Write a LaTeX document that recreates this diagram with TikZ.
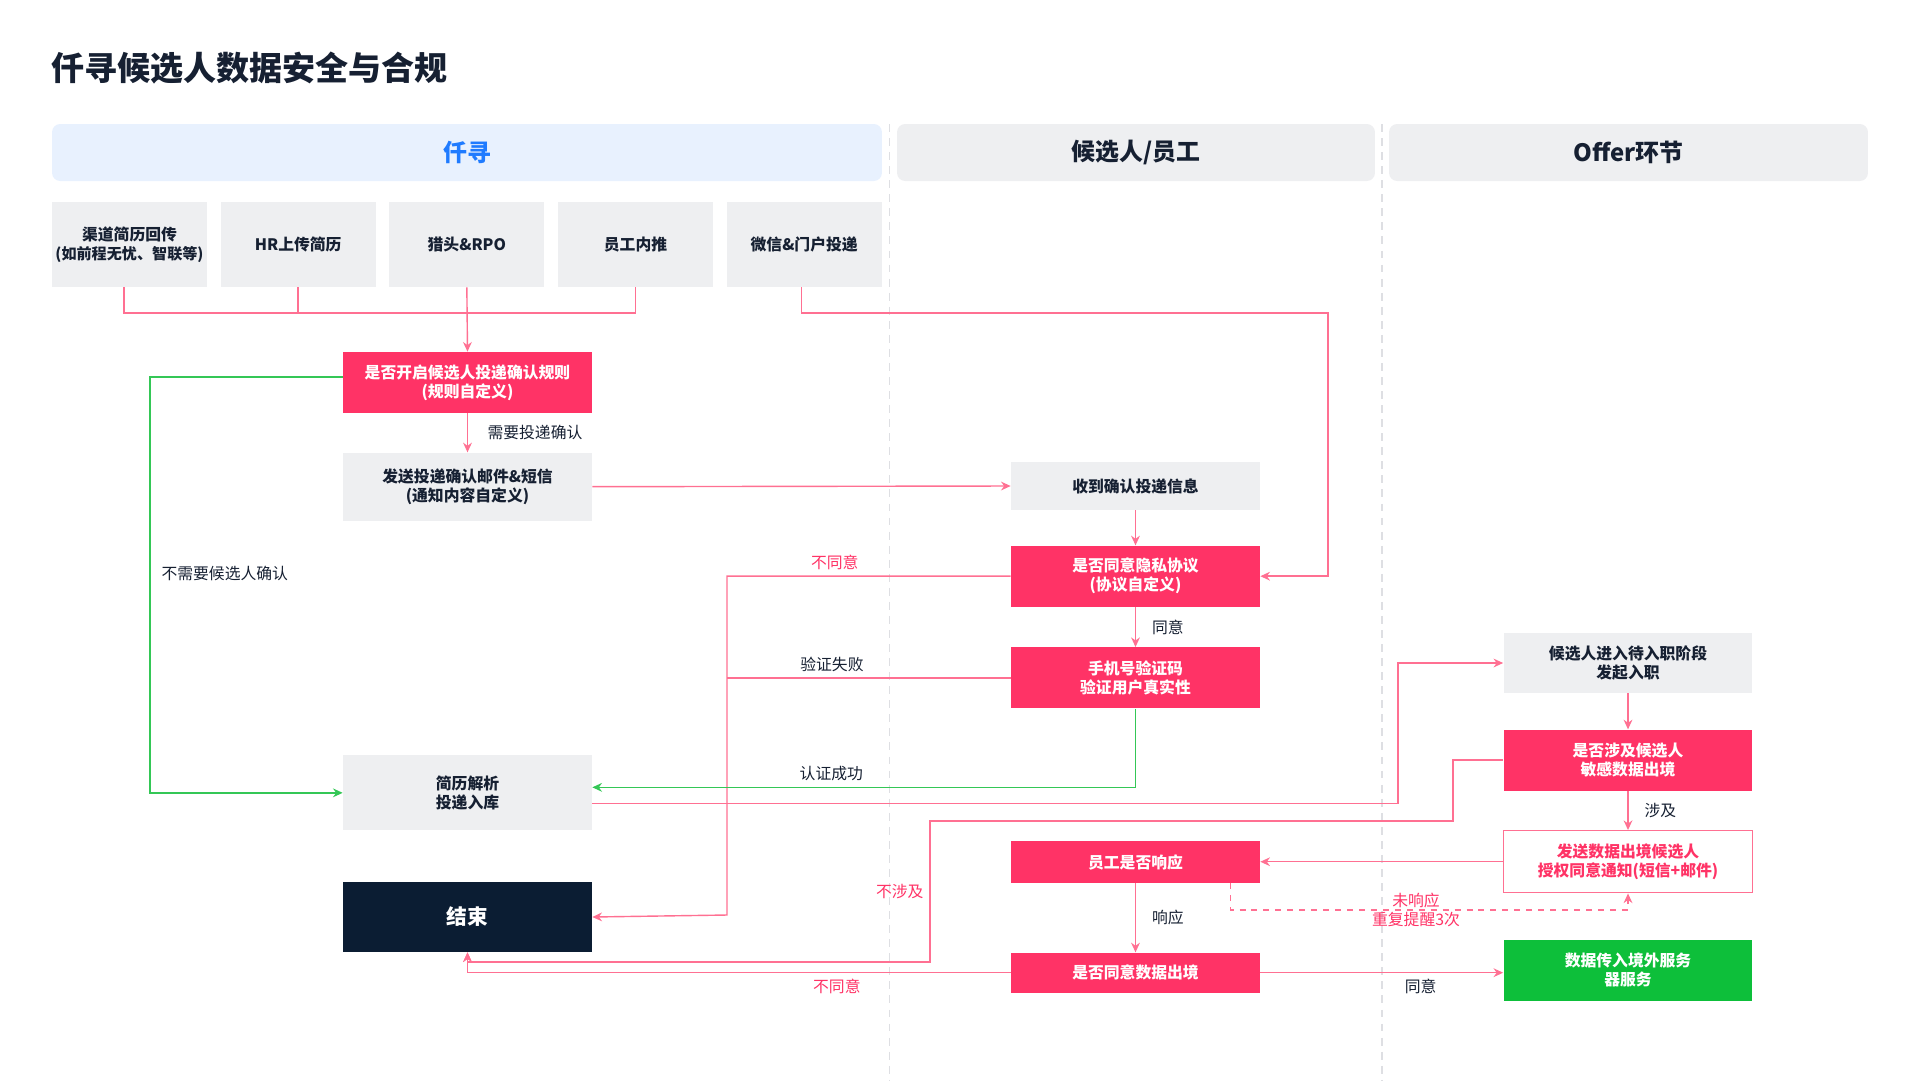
\documentclass[tikz,border=0pt]{standalone}
\usepackage{fontspec}
\setmainfont{Noto Sans CJK SC}
\usepackage{tikz}
\usetikzlibrary{shapes,arrows.meta}
\usetikzlibrary{positioning}
\usetikzlibrary{calc}
\definecolor{myred}{RGB}{255,51,102}
\definecolor{myline}{RGB}{255,112,146}
\definecolor{mygreen}{RGB}{13,191,58}
\definecolor{mygreenline}{RGB}{52,199,86}
\definecolor{mynavy}{RGB}{11,29,51}
\definecolor{mygray}{RGB}{238,239,241}
\definecolor{mydark}{RGB}{22,32,50}
\definecolor{myblue}{RGB}{31,123,255}
\definecolor{mybluebg}{RGB}{232,241,254}
\definecolor{mysep}{RGB}{222,223,227}
\newcommand\flownode[4][]{%
  \node[#1,minimum height=#2cm] (#3) {#4};
}

\begin{document}
\begin{tikzpicture}[
x=0.02cm, y=-0.02cm,
>={Stealth[length=5.5pt,width=5pt]},
mynode/.style={
  rectangle,
  align=center,
  minimum width=4.98cm,
  inner sep=2pt,
  font=\bfseries\fontsize{9}{10.8}\selectfont},
graybox/.style={mynode, fill=mygray, text=mydark},
redbox/.style={mynode, fill=myred, text=white},
srcbox/.style={graybox, minimum width=3.1cm, minimum height=1.7cm, inner sep=0pt},
lanehead/.style={
  rectangle,
  rounded corners=0.16cm,
  fill=mygray,
  text=mydark,
  minimum height=1.14cm,
  font=\bfseries\fontsize{13.6}{16}\selectfont},
lbl/.style={text=mydark, font=\fontsize{9}{10.8}\selectfont},
redlbl/.style={lbl, text=myred},
redline/.style={draw=myline, line width=0.8pt},
greenline/.style={draw=mygreenline, line width=0.8pt},
lane/.style={draw=mysep, line width=0.8pt, dash pattern=on 4.5pt off 3.5pt}
]
\useasboundingbox (0,0) rectangle (1920,1080);

\node[anchor=west, inner sep=0, text=mydark,
  font=\bfseries\fontsize{18.8}{22}\selectfont] (titletext) at (51,68) {仟寻候选人数据安全与合规};

% lanes
\node[lanehead, fill=mybluebg, text=myblue, minimum width=16.6cm] (qianxun) at (467,152.5) {仟寻};
\node[lanehead, minimum width=9.56cm] (candidate) at (1136,152.5) {候选人/员工};
\node[lanehead, minimum width=9.58cm] (offer) at (1628.5,152.5) {Offer环节};
\draw[lane] (889.5,124) -- (889.5,1080);
\draw[lane] (1382,124) -- (1382,1080);

% sources
\node[srcbox] (channel) at (129.5,244.5) {渠道简历回传\\{\fontsize{8.6}{10.8}\selectfont (如前程无忧、智联等)}};
\node[srcbox, right=0.26cm of channel] (hr) {HR上传简历};
\node[srcbox, right=0.26cm of hr] (hunter) {猎头\&RPO};
\node[srcbox, right=0.26cm of hunter] (referral) {员工内推};
\node[srcbox, right=0.26cm of referral] (wechat) {微信\&门户投递};

% qianxun column
\flownode[redbox, at={(467.5,382.5)}]{1.22}{rule}{是否开启候选人投递确认规则\\(规则自定义)}
\flownode[graybox, below=0.78cm of rule]{1.36}{sendmail}{发送投递确认邮件\&短信\\(通知内容自定义)}
\flownode[graybox, below=4.68cm of sendmail]{1.5}{parse}{简历解析\\投递入库}
\flownode[mynode, fill=mynavy, text=white, below=1.02cm of parse,
  font=\bfseries\fontsize{11.8}{14}\selectfont]{1.4}{finish}{结束}

% candidate column
\flownode[graybox, at={(1135.5,486)}]{0.96}{recv}{收到确认投递信息}
\flownode[redbox, below=0.7cm of recv]{1.22}{privacy}{是否同意隐私协议\\(协议自定义)}
\flownode[redbox, below=0.8cm of privacy]{1.22}{phone}{手机号验证码\\验证用户真实性}
\flownode[redbox, at={(1135.5,862)}]{0.84}{respond}{员工是否响应}
\flownode[redbox, below=1.38cm of respond]{0.8}{consent}{是否同意数据出境}

% offer column
\flownode[graybox, at={(1628,663)}]{1.2}{onboard}{候选人进入待入职阶段\\发起入职}
\flownode[redbox, below=0.72cm of onboard]{1.22}{involve}{是否涉及候选人\\敏感数据出境}
\flownode[mynode, fill=white, draw=myline, line width=0.8pt, text=myred,
  below=0.78cm of involve]{1.24}{notify}{发送数据出境候选人\\授权同意通知(短信+邮件)}
\flownode[mynode, fill=mygreen, text=white, below=0.92cm of notify]{1.22}{upload}{数据传入境外服务\\器服务}

% connectors
\coordinate (join) at (467.5,313);
\draw[redline] ([xshift=-0.11cm]channel.south) |- (join) -| (referral.south);
\draw[redline] (hr.south) -- (hr.south |- join);
\draw[redline,->] (hunter.south) -- (rule.north);
\coordinate (wbend) at (1328,313);
\draw[redline,->] ([xshift=-0.05cm]wechat.south) |- (wbend) |- (privacy.east);

\draw[redline,->] (rule) -- node[lbl, right=0.27cm] {需要投递确认} (sendmail);
\coordinate (skip) at (150,573);
\draw[greenline,->] ([yshift=0.11cm]rule.west) -| (skip) node[lbl, right=0.1cm] {不需要候选人确认} |- (parse.west);

\draw[redline,->] (sendmail.east) -- (recv.west);
\draw[redline,->] (recv) -- (privacy);
\draw[redline,->] (privacy) -- node[lbl, right=0.2cm] {同意} (phone);

\coordinate (reject) at (727,915);
\draw[redline,->] (privacy.west) -| node[redlbl, pos=0.31, above] {不同意} (reject) -- (finish.east);
\draw[redline] (phone.west) -- node[lbl, pos=0.63, above] {验证失败} (phone.west -| reject);
\draw[greenline,->] (phone.south) |- node[lbl, pos=0.78, above] {认证成功} ([yshift=0.11cm]parse.east);

\coordinate (hire) at (1398,663);
\draw[redline,->] ([yshift=-0.21cm]parse.east) -| (hire) -- (onboard.west);
\draw[redline,->] (onboard) -- (involve);
\coordinate (skipa) at (1453,821);
\coordinate (skipb) at (930,962);
\draw[redline,->] (involve.west) -| (skipa) -| node[redlbl, pos=0.75, left] {不涉及} (skipb) -| (finish.south);
\draw[redline,->] (involve) -- node[lbl, right=0.2cm] {涉及} (notify);
\draw[redline,->] (notify.west) -- (notify.west -| respond.east);
\draw[redline,->] (respond) -- node[lbl, right=0.2cm] {响应} (consent);
\coordinate (remind) at (1416,910);
\draw[redline, dash pattern=on 3.4pt off 3.4pt, ->] ([xshift=-0.6cm]respond.south east) |- (remind)
  node[redlbl, align=center] {未响应\\重复提醒3次} -| (notify.south);
\draw[redline,->] (consent.west) -| node[redlbl, pos=0.16, below] {不同意} (finish.south);
\draw[redline,->] (consent.east) -- node[lbl, pos=0.66, below] {同意} (consent.east -| upload.west);
\end{tikzpicture}
\end{document}
